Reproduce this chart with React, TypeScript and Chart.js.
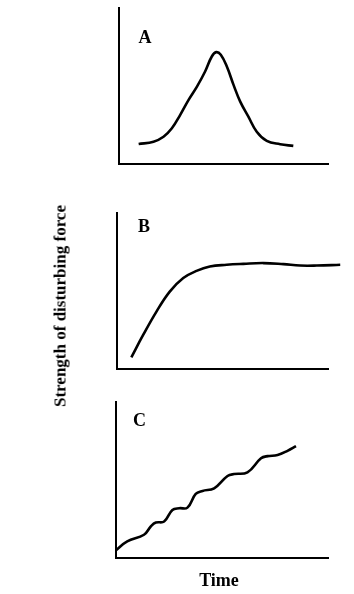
import React, { useEffect, useRef } from "react";
import { Chart, registerables } from "chart.js";

Chart.register(...registerables);

// Panel A: a single rise and fall of the disturbing force
const timeA = [9.4, 16.5, 21.3, 25.3, 29.3, 33.3, 37.3, 41.2, 44.4, 46.5, 48.7, 51.6, 54.8, 58.0, 61.9, 65.9, 70.7, 77.1, 83.4];
const strengthA = [12.8, 14.3, 17.5, 22.9, 31.5, 41.1, 49.6, 59.3, 68.9, 71.7, 70.0, 62.5, 50.7, 40.0, 30.4, 20.7, 14.8, 12.7, 11.6];

// Panel B: rise to a plateau
const timeB = [6.8, 12.4, 18.7, 25.0, 31.4, 37.7, 44.0, 52.0, 59.9, 69.4, 78.9, 86.8, 94.7, 105.8];
const strengthB = [7.5, 21.8, 36.8, 49.6, 58.3, 62.9, 65.7, 66.8, 67.4, 67.9, 67.2, 66.3, 66.3, 66.8];

// Panel C: stepwise increase
const timeC = [0, 5.3, 13.2, 16.4, 18.8, 22.7, 26.6, 29.8, 33.7, 37.6, 40.8, 46.3, 52.6, 55.7, 62.0, 68.4, 71.5, 76.2, 80.9, 84.9];
const strengthC = [5.0, 10.6, 14.9, 20.2, 22.7, 23.4, 30.8, 31.9, 32.3, 41.1, 43.0, 44.7, 52.6, 53.8, 54.9, 63.9, 65.3, 66.0, 68.7, 71.7];

const panelLabels = ["A", "B", "C"];
const xAxisLabel = "Time";
const yAxisLabel = "Strength of disturbing force";

const W = 354;
const H = 594;
const FONT = "'Liberation Serif', 'Times New Roman', serif";

type Pad = { left: number; top: number; right: number; bottom: number };

function Panel({ xs, ys, pad }: { xs: number[]; ys: number[]; pad: Pad }) {
  const ref = useRef<HTMLCanvasElement | null>(null);
  useEffect(() => {
    if (!ref.current) return;
    const axis = (min: number, max: number) => ({
      type: "linear" as const,
      min,
      max,
      display: true,
      grid: { display: false, drawTicks: false },
      ticks: { display: false },
      border: { display: true, color: "#000", width: 2 },
    });
    const chart = new Chart(ref.current, {
      type: "line",
      data: {
        datasets: [
          {
            data: xs.map((x, i) => ({ x, y: ys[i] })),
            borderColor: "#000",
            borderWidth: 2.6,
            pointRadius: 0,
            tension: 0.4,
            fill: false,
            clip: false,
          } as any,
        ],
      },
      options: {
        animation: false,
        responsive: false,
        maintainAspectRatio: false,
        layout: { padding: pad },
        plugins: { legend: { display: false }, tooltip: { enabled: false }, title: { display: false } },
        scales: { x: axis(0, 100), y: axis(0, 100) },
      },
    });
    return () => chart.destroy();
  }, []);
  return (
    <canvas
      ref={ref}
      width={W}
      height={H}
      style={{ position: "absolute", left: 0, top: 0, width: W, height: H, pointerEvents: "none" }}
    />
  );
}

const textStyle: React.CSSProperties = {
  position: "absolute",
  fontFamily: FONT,
  fontWeight: "bold",
  fontSize: 18,
  lineHeight: "18px",
  color: "#000",
  whiteSpace: "nowrap",
  transform: "translateX(-50%)",
};

export default function App() {
  return (
    <div style={{ position: "absolute", left: 0, top: 0, width: W, height: H, background: "#fff", overflow: "hidden" }}>
      <Panel xs={timeA} ys={strengthA} pad={{ left: 119, top: 8, right: 26, bottom: 430 }} />
      <Panel xs={timeB} ys={strengthB} pad={{ left: 117, top: 213, right: 26, bottom: 225 }} />
      <Panel xs={timeC} ys={strengthC} pad={{ left: 116, top: 402, right: 26, bottom: 36 }} />
      <div style={{ ...textStyle, left: 145, top: 28 }}>{panelLabels[0]}</div>
      <div style={{ ...textStyle, left: 144, top: 217 }}>{panelLabels[1]}</div>
      <div style={{ ...textStyle, left: 139.5, top: 411 }}>{panelLabels[2]}</div>
      <div style={{ ...textStyle, left: 219, top: 570.5 }}>{xAxisLabel}</div>
      <div
        style={{
          ...textStyle,
          fontSize: 17,
          lineHeight: "17px",
          left: 60.3,
          top: 305.5,
          transform: "translate(-50%, -50%) rotate(-90deg)",
        }}
      >
        {yAxisLabel}
      </div>
    </div>
  );
}
